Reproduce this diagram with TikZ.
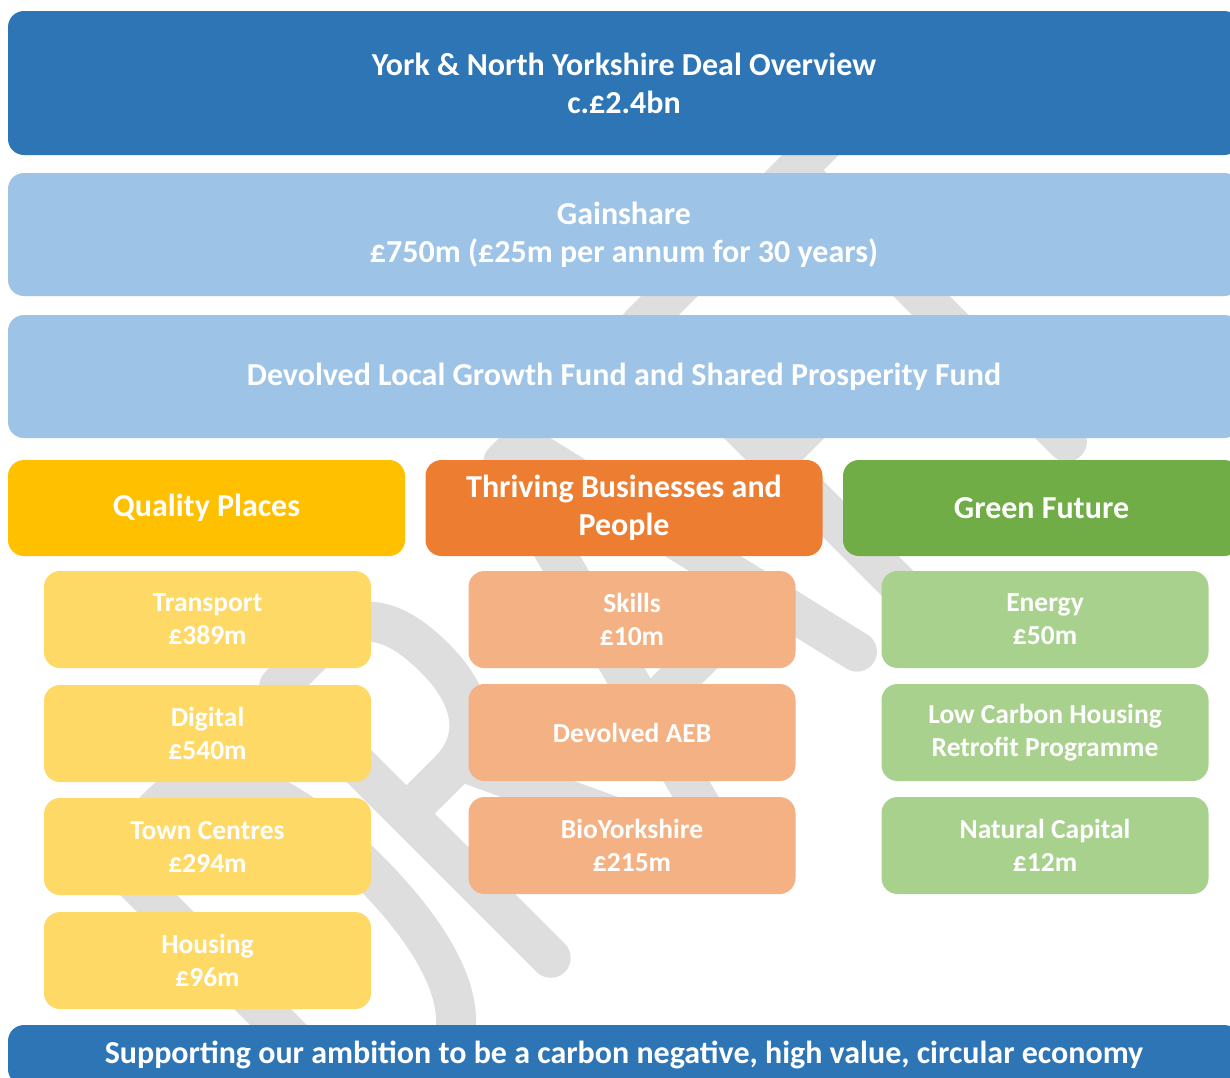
\documentclass[tikz,border=0pt]{standalone}
\usepackage{fontspec}
\setmainfont{Carlito}
\definecolor{dkblue}{HTML}{2E75B6}
\definecolor{ltblue}{HTML}{9DC3E6}
\definecolor{hdyellow}{HTML}{FFC000}
\definecolor{hdorange}{HTML}{ED7D31}
\definecolor{hdgreen}{HTML}{70AD47}
\definecolor{ltyellow}{HTML}{FFD966}
\definecolor{ltorange}{HTML}{F4B183}
\definecolor{ltgreen}{HTML}{A9D18E}
\definecolor{wmgrey}{HTML}{DEDEDE}
\begin{document}
\begin{tikzpicture}[x=1pt,y=-1pt,
  bigbox/.style={rectangle, rounded corners=16pt, text=white, inner sep=0pt, align=center,
    font=\bfseries\fontsize{32pt}{38pt}\selectfont},
  widebox/.style={bigbox, minimum width=1232pt, minimum height=123pt, fill=ltblue},
  headbox/.style={bigbox, minimum width=397pt, minimum height=96pt},
  subbox/.style={rectangle, rounded corners=16pt, text=white, inner sep=0pt, align=center,
    minimum width=327pt, minimum height=97pt, font=\bfseries\fontsize{27.5pt}{33pt}\selectfont},
  wm/.style={draw=wmgrey, line width=40pt, line cap=round, line join=round}]
\clip (0,0) rectangle (1230,1077);
\fill[white] (0,0) rectangle (1230,1077);
% watermark
\begin{scope}[shift={(567,967)}, x={(0.7071pt,0.7071pt)}, y={(-0.7071pt,0.7071pt)}]
  % D
  \draw[wm] (-245,18) -- (-245,402) -- (-170,402) .. controls (-105,402) and (-72,330) .. (-72,210)
    .. controls (-72,90) and (-105,18) .. (-170,18) -- cycle;
  % R
  \draw[wm] (-5,18) -- (-5,402) -- (55,402) .. controls (105,402) and (125,370) .. (125,312)
    .. controls (125,255) and (100,222) .. (55,222) -- (-5,222);
  \draw[wm] (70,222) -- (165,18);
  % A
  \draw[wm] (208,18) -- (312,402) -- (338,402) -- (428,18);
  \draw[wm] (234,125) -- (404,125);
  % F
  \draw[wm] (505,18) -- (505,402) -- (610,402);
  \draw[wm] (505,212) -- (592,212);
  % T
  \draw[wm] (620,402) -- (850,402);
  \draw[wm] (725,402) -- (725,18);
\end{scope}
% top boxes
\node[bigbox, fill=dkblue, minimum width=1232pt, minimum height=144pt] (top) at (624,83)
  {York \& North Yorkshire Deal Overview\\c.£2.4bn};
\node[widebox] (gain) at (624,234.5) {Gainshare\\£750m (£25m per annum for 30 years)};
\node[widebox] (dev) at (624,376.5) {Devolved Local Growth Fund and Shared Prosperity Fund};
% column headers
\node[headbox, fill=hdyellow] (qp) at (206.5,508) {Quality Places};
\node[headbox, fill=hdorange] (tb) at (624,508) {Thriving Businesses and\\People};
\node[headbox, fill=hdgreen] (gf) at (1041.5,508) {Green Future};
% quality places
\node[subbox, fill=ltyellow] (tr) at (207.5,619.5) {Transport\\£389m};
\node[subbox, fill=ltyellow] (dg) at (207.5,733.5) {Digital\\£540m};
\node[subbox, fill=ltyellow] (tc) at (207.5,846.5) {Town Centres\\£294m};
\node[subbox, fill=ltyellow] (hs) at (207.5,960.5) {Housing\\£96m};
% thriving businesses
\node[subbox, fill=ltorange] (sk) at (632,619.5) {Skills\\£10m};
\node[subbox, fill=ltorange] (aeb) at (632,732.5) {Devolved AEB};
\node[subbox, fill=ltorange] (bio) at (632,845.5) {BioYorkshire\\£215m};
% green future
\node[subbox, fill=ltgreen] (en) at (1045,619.5) {Energy\\£50m};
\node[subbox, fill=ltgreen] (lc) at (1045,732.5) {Low Carbon Housing\\Retrofit Programme};
\node[subbox, fill=ltgreen] (nc) at (1045,845.5) {Natural Capital\\£12m};
% bottom bar
\node[bigbox, fill=dkblue, minimum width=1232pt, minimum height=60pt] (bot) at (624,1055)
  {Supporting our ambition to be a carbon negative, high value, circular economy};
\end{tikzpicture}
\end{document}
